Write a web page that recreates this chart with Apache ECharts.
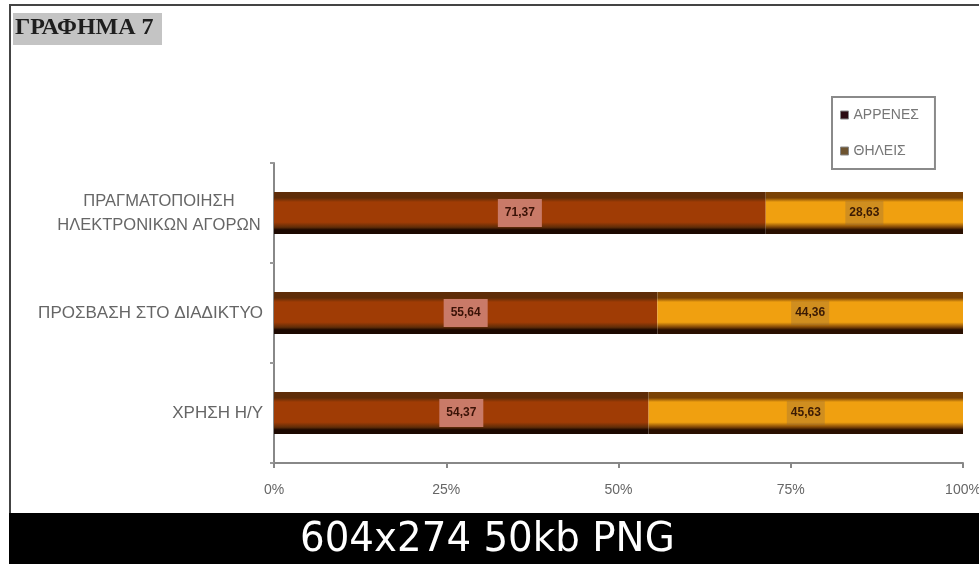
<!DOCTYPE html>
<html>
<head>
<meta charset="utf-8">
<script src="https://cdn.jsdelivr.net/npm/echarts@6/dist/echarts.min.js"></script>
<style>
  html, body { margin: 0; padding: 0; background: #fff; }
  #chart { width: 979px; height: 564px; }
</style>
</head>
<body>
<div id="chart"></div>
<script>
// data
const categories = ['ΧΡΗΣΗ Η/Υ', 'ΠΡΟΣΒΑΣΗ ΣΤΟ ΔΙΑΔΙΚΤΥΟ', 'ΠΡΑΓΜΑΤΟΠΟΙΗΣΗ\nΗΛΕΚΤΡΟΝΙΚΩΝ ΑΓΟΡΩΝ']
const males = [54.37, 55.64, 71.37]
const females = [45.63, 44.36, 28.63]
const seriesNames = ['ΑΡΡΕΝΕΣ', 'ΘΗΛΕΙΣ']
const xTicks = [0, 25, 50, 75, 100]

const fmt = v => v.toFixed(2).replace('.', ',')

// excel-ish shaded bar: dark rims top and bottom
const shade = (rimTop, body, rimBottom) => ({
  type: 'linear', x: 0, y: 0, x2: 0, y2: 1,
  colorStops: [
    {offset: 0, color: rimTop},
    {offset: 0.14, color: rimTop},
    {offset: 0.24, color: body},
    {offset: 0.72, color: body},
    {offset: 0.84, color: rimTop},
    {offset: 0.9, color: rimBottom},
    {offset: 1, color: rimBottom}
  ]
})

const chart = echarts.init(document.getElementById('chart'))

const option = {
  backgroundColor: '#fff',
  animation: false,
  grid: {left: 274, right: 16, top: 163, bottom: 101, outerBoundsMode: 'none'},
  legend: {
    orient: 'vertical',
    left: 832,
    top: 97,
    padding: [11, 16, 11, 8],
    borderColor: '#8a8a8a',
    borderWidth: 2,
    itemGap: 22,
    itemWidth: 8,
    itemHeight: 8,
    icon: 'rect',
    textStyle: {color: '#777', fontSize: 14, fontFamily: 'Liberation Sans'},
    data: [
      {name: seriesNames[0], itemStyle: {color: '#2b0c12', borderColor: '#888', borderWidth: 1}},
      {name: seriesNames[1], itemStyle: {color: '#6e5430', borderColor: '#888', borderWidth: 1}}
    ]
  },
  xAxis: {
    type: 'value',
    min: xTicks[0],
    max: xTicks[xTicks.length - 1],
    interval: 25,
    splitLine: {show: false},
    axisLine: {show: true, lineStyle: {color: '#888', width: 2}},
    axisTick: {show: true, length: 5, lineStyle: {color: '#888', width: 2}},
    axisLabel: {
      formatter: '{value}%',
      margin: 20,
      color: '#666',
      fontSize: 14,
      fontFamily: 'Liberation Sans'
    }
  },
  yAxis: {
    type: 'category',
    data: categories,
    axisLine: {show: true, lineStyle: {color: '#888', width: 2}},
    axisTick: {show: true, length: 4, lineStyle: {color: '#999', width: 2}},
    axisLabel: {
      margin: 11,
      color: '#666',
      fontSize: 17,
      fontFamily: 'Liberation Sans',
      formatter: v => v.indexOf('\n') < 0 ? v : v.split('\n').map(s => '{c|' + s + '}').join('\n'),
      rich: {
        c: {width: 208, align: 'center', color: '#666', fontSize: 16.5, fontFamily: 'Liberation Sans', lineHeight: 24}
      }
    }
  },
  series: [
    {
      name: seriesNames[0],
      type: 'bar',
      stack: 'total',
      barWidth: 42,
      data: males,
      itemStyle: {color: shade('#5e2c08', '#a03c05', '#1c0800')},
      label: {
        show: true,
        position: 'inside',
        formatter: p => fmt(p.value),
        color: '#3a1206',
        fontSize: 12,
        fontWeight: 'bold',
        fontFamily: 'Liberation Sans',
        backgroundColor: '#c97a68',
        padding: [8, 7, 8, 7]
      }
    },
    {
      name: seriesNames[1],
      type: 'bar',
      stack: 'total',
      barWidth: 42,
      data: females,
      itemStyle: {color: shade('#7a4206', '#f0a010', '#2a1000')},
      label: {
        show: true,
        position: 'inside',
        formatter: p => fmt(p.value),
        color: '#3a1a04',
        fontSize: 12,
        fontWeight: 'bold',
        fontFamily: 'Liberation Sans',
        backgroundColor: 'rgba(150,110,60,0.35)',
        padding: [6, 4, 6, 4]
      }
    }
  ],
  graphic: [
    // outer frame
    {type: 'rect', shape: {x: 10, y: 5, width: 980, height: 510}, style: {fill: 'none', stroke: '#444', lineWidth: 2}, z: 10},
    // title box
    {type: 'rect', shape: {x: 13, y: 13, width: 149, height: 32}, style: {fill: '#c4c4c4'}, z: 10},
    {type: 'text', left: 15, top: 16, z: 11,
      style: {text: 'ΓΡΑΦΗΜΑ 7', fill: '#1e1e1e', font: 'bold 24px "Liberation Serif"'}},
    // bottom band
    {type: 'rect', shape: {x: 9, y: 513, width: 975, height: 51}, style: {fill: '#000'}, z: 10},
    {type: 'text', x: 300, y: 520, scaleX: 0.97, scaleY: 1.03, z: 11,
      style: {text: '604x274 50kb PNG', fill: '#fff', font: '40px "DejaVu Sans"'}}
  ]
}

chart.setOption(option)
</script>
</body>
</html>
